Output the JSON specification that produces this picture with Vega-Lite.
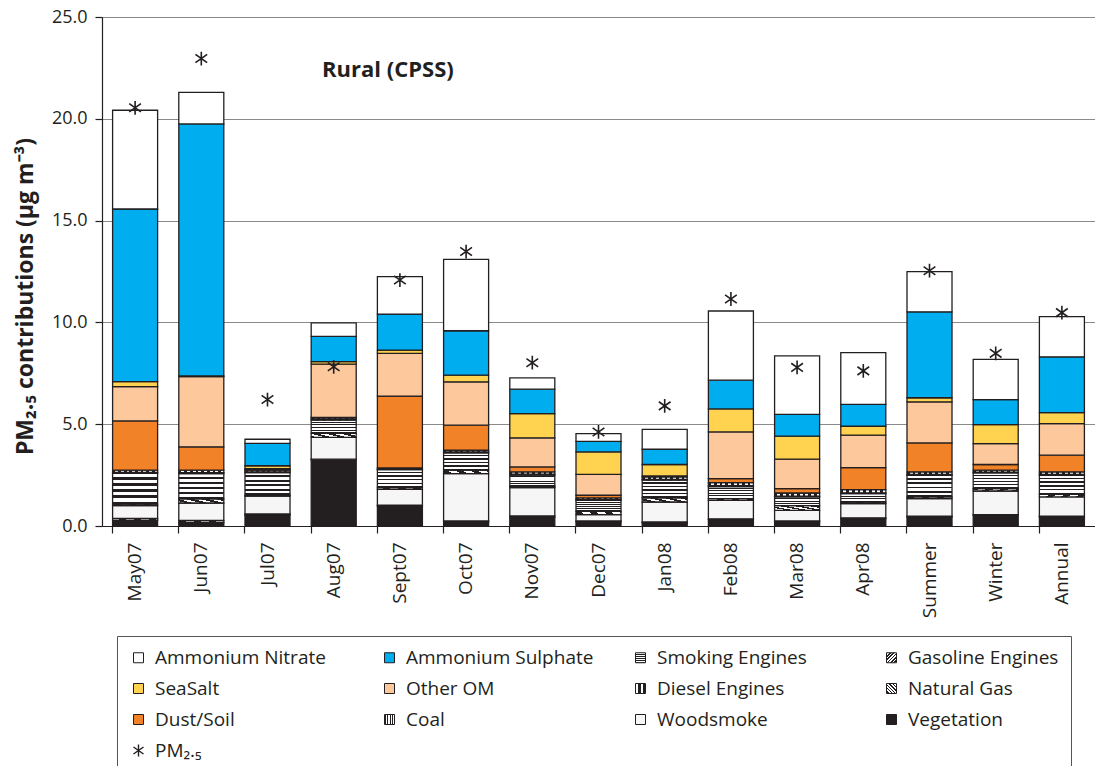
{
  "$schema": "https://vega.github.io/schema/vega-lite/v6.json",
  "autosize": "none",
  "width": 993,
  "height": 509,
  "padding": {"left": 102, "top": 17, "right": 0, "bottom": 240},
  "background": "white",
  "config": {
    "view": {"stroke": null},
    "font": "Open Sans",
    "axis": {"labelFont": "Open Sans", "titleFont": "Open Sans", "labelColor": "#231f20", "titleColor": "#231f20", "domainColor": "#231f20", "tickColor": "#231f20"},
    "legend": {"labelFont": "Open Sans"}
  },
  "datasets": {
    "rows": [
      {"period": "May07", "Vegetation": 0.29, "Natural Gas": 0.08, "Woodsmoke": 0.63, "Gasoline Engines": 0.08, "Smoking Engines": 1.5, "Coal": 0.05, "Diesel Engines": 0.11, "Dust/Soil": 2.42, "Other OM": 1.69, "SeaSalt": 0.24, "Ammonium Sulphate": 8.48, "Ammonium Nitrate": 4.85, "PM25": 20.54},
      {"period": "Jun07", "Vegetation": 0.17, "Natural Gas": 0.1, "Woodsmoke": 0.86, "Gasoline Engines": 0.2, "Smoking Engines": 1.24, "Coal": 0.05, "Diesel Engines": 0.12, "Dust/Soil": 1.15, "Other OM": 3.45, "SeaSalt": 0.03, "Ammonium Sulphate": 12.38, "Ammonium Nitrate": 1.55, "PM25": 22.96},
      {"period": "Jul07", "Vegetation": 0.54, "Natural Gas": 0.05, "Woodsmoke": 0.88, "Gasoline Engines": 0.05, "Smoking Engines": 1.1, "Coal": 0.04, "Diesel Engines": 0.08, "Dust/Soil": 0.03, "Other OM": 0.05, "SeaSalt": 0.14, "Ammonium Sulphate": 1.1, "Ammonium Nitrate": 0.2, "PM25": 6.21},
      {"period": "Aug07", "Vegetation": 3.25, "Natural Gas": 0.03, "Woodsmoke": 1.07, "Gasoline Engines": 0.2, "Smoking Engines": 0.65, "Coal": 0.05, "Diesel Engines": 0.08, "Dust/Soil": 0.0, "Other OM": 2.62, "SeaSalt": 0.12, "Ammonium Sulphate": 1.24, "Ammonium Nitrate": 0.67, "PM25": 7.82},
      {"period": "Sept07", "Vegetation": 0.98, "Natural Gas": 0.04, "Woodsmoke": 0.78, "Gasoline Engines": 0.09, "Smoking Engines": 0.88, "Coal": 0.03, "Diesel Engines": 0.05, "Dust/Soil": 3.53, "Other OM": 2.1, "SeaSalt": 0.16, "Ammonium Sulphate": 1.77, "Ammonium Nitrate": 1.84, "PM25": 12.08},
      {"period": "Oct07", "Vegetation": 0.2, "Natural Gas": 0.05, "Woodsmoke": 2.32, "Gasoline Engines": 0.17, "Smoking Engines": 0.85, "Coal": 0.05, "Diesel Engines": 0.08, "Dust/Soil": 1.23, "Other OM": 2.13, "SeaSalt": 0.33, "Ammonium Sulphate": 2.18, "Ammonium Nitrate": 3.51, "PM25": 13.48},
      {"period": "Nov07", "Vegetation": 0.44, "Natural Gas": 0.05, "Woodsmoke": 1.4, "Gasoline Engines": 0.07, "Smoking Engines": 0.54, "Coal": 0.05, "Diesel Engines": 0.11, "Dust/Soil": 0.24, "Other OM": 1.43, "SeaSalt": 1.19, "Ammonium Sulphate": 1.2, "Ammonium Nitrate": 0.56, "PM25": 8.02},
      {"period": "Dec07", "Vegetation": 0.2, "Natural Gas": 0.05, "Woodsmoke": 0.31, "Gasoline Engines": 0.16, "Smoking Engines": 0.54, "Coal": 0.04, "Diesel Engines": 0.08, "Dust/Soil": 0.13, "Other OM": 1.03, "SeaSalt": 1.1, "Ammonium Sulphate": 0.52, "Ammonium Nitrate": 0.38, "PM25": 4.62},
      {"period": "Jan08", "Vegetation": 0.16, "Natural Gas": 0.04, "Woodsmoke": 0.98, "Gasoline Engines": 0.2, "Smoking Engines": 0.87, "Coal": 0.04, "Diesel Engines": 0.12, "Dust/Soil": 0.05, "Other OM": 0.0, "SeaSalt": 0.56, "Ammonium Sulphate": 0.75, "Ammonium Nitrate": 0.98, "PM25": 5.9},
      {"period": "Feb08", "Vegetation": 0.31, "Natural Gas": 0.04, "Woodsmoke": 0.91, "Gasoline Engines": 0.08, "Smoking Engines": 0.6, "Coal": 0.04, "Diesel Engines": 0.15, "Dust/Soil": 0.2, "Other OM": 2.29, "SeaSalt": 1.13, "Ammonium Sulphate": 1.41, "Ammonium Nitrate": 3.4, "PM25": 11.15},
      {"period": "Mar08", "Vegetation": 0.2, "Natural Gas": 0.05, "Woodsmoke": 0.52, "Gasoline Engines": 0.23, "Smoking Engines": 0.43, "Coal": 0.04, "Diesel Engines": 0.15, "Dust/Soil": 0.22, "Other OM": 1.44, "SeaSalt": 1.13, "Ammonium Sulphate": 1.07, "Ammonium Nitrate": 2.88, "PM25": 7.79},
      {"period": "Apr08", "Vegetation": 0.36, "Natural Gas": 0.04, "Woodsmoke": 0.7, "Gasoline Engines": 0.08, "Smoking Engines": 0.41, "Coal": 0.04, "Diesel Engines": 0.16, "Dust/Soil": 1.08, "Other OM": 1.59, "SeaSalt": 0.44, "Ammonium Sulphate": 1.07, "Ammonium Nitrate": 2.55, "PM25": 7.62},
      {"period": "Summer", "Vegetation": 0.44, "Natural Gas": 0.04, "Woodsmoke": 0.86, "Gasoline Engines": 0.09, "Smoking Engines": 1.06, "Coal": 0.05, "Diesel Engines": 0.12, "Dust/Soil": 1.42, "Other OM": 2.02, "SeaSalt": 0.2, "Ammonium Sulphate": 4.22, "Ammonium Nitrate": 1.97, "PM25": 12.54},
      {"period": "Winter", "Vegetation": 0.52, "Natural Gas": 0.04, "Woodsmoke": 1.16, "Gasoline Engines": 0.12, "Smoking Engines": 0.77, "Coal": 0.04, "Diesel Engines": 0.09, "Dust/Soil": 0.28, "Other OM": 1.03, "SeaSalt": 0.93, "Ammonium Sulphate": 1.23, "Ammonium Nitrate": 1.97, "PM25": 8.48},
      {"period": "Annual", "Vegetation": 0.44, "Natural Gas": 0.04, "Woodsmoke": 0.95, "Gasoline Engines": 0.13, "Smoking Engines": 0.93, "Coal": 0.05, "Diesel Engines": 0.12, "Dust/Soil": 0.82, "Other OM": 1.55, "SeaSalt": 0.54, "Ammonium Sulphate": 2.74, "Ammonium Nitrate": 1.97, "PM25": 10.48}
    ],
    "components": [
      {"component": "Vegetation", "rank": 1},
      {"component": "Natural Gas", "rank": 2},
      {"component": "Woodsmoke", "rank": 3},
      {"component": "Gasoline Engines", "rank": 4},
      {"component": "Smoking Engines", "rank": 5},
      {"component": "Coal", "rank": 6},
      {"component": "Diesel Engines", "rank": 7},
      {"component": "Dust/Soil", "rank": 8},
      {"component": "Other OM", "rank": 9},
      {"component": "SeaSalt", "rank": 10},
      {"component": "Ammonium Sulphate", "rank": 11},
      {"component": "Ammonium Nitrate", "rank": 12}
    ]
  },
  "data": {"name": "rows"},
  "encoding": {
    "x": {
      "field": "period", "type": "nominal", "sort": null,
      "scale": {"paddingInner": 0.32, "paddingOuter": 0.16},
      "axis": {"title": null, "labelAngle": -90, "labelFontSize": 19, "labelPadding": 9, "tickSize": 7, "bandPosition": 0, "domainWidth": 1.2, "tickWidth": 1.2, "grid": false}
    }
  },
  "layer": [
    {
      "transform": [
        {"fold": ["Vegetation", "Natural Gas", "Woodsmoke", "Gasoline Engines", "Smoking Engines", "Coal", "Diesel Engines", "Dust/Soil", "Other OM", "SeaSalt", "Ammonium Sulphate", "Ammonium Nitrate"], "as": ["component", "value"]},
        {"lookup": "component", "from": {"data": {"name": "components"}, "key": "component", "fields": ["rank"]}}
      ],
      "mark": {"type": "bar", "stroke": "#231f20", "strokeWidth": 1.3},
      "encoding": {
        "y": {
          "field": "value", "type": "quantitative", "stack": "zero",
          "scale": {"domain": [0, 25], "nice": false},
          "axis": {"title": "PM₂.₅ contributions (µg m⁻³)", "titleFontSize": 23, "titleFontWeight": "bold", "titlePadding": 14, "titleY": 279, "labelFontSize": 18, "labelPadding": 8, "tickSize": 7, "format": ".1f", "values": [0, 5, 10, 15, 20, 25], "grid": true, "gridColor": "#8a8a8a", "gridWidth": 1.2, "domainWidth": 1.2, "tickWidth": 1.2}
        },
        "order": {"field": "rank", "type": "quantitative", "sort": "ascending"},
        "color": {
          "field": "component", "type": "nominal",
          "scale": {
            "domain": ["Ammonium Nitrate", "Ammonium Sulphate", "Smoking Engines", "Gasoline Engines", "SeaSalt", "Other OM", "Diesel Engines", "Natural Gas", "Dust/Soil", "Coal", "Woodsmoke", "Vegetation", "PM₂.₅"],
            "range": [
              "#ffffff",
              "#00aeef",
              {"expr": "{gradient:'linear',x1:0,y1:0,x2:0,y2:1,stops:[{offset:0,color:'white'},{offset:0.12,color:'white'},{offset:0.12,color:'#231f20'},{offset:0.2,color:'#231f20'},{offset:0.2,color:'white'},{offset:0.32,color:'white'},{offset:0.32,color:'#231f20'},{offset:0.4,color:'#231f20'},{offset:0.4,color:'white'},{offset:0.52,color:'white'},{offset:0.52,color:'#231f20'},{offset:0.6,color:'#231f20'},{offset:0.6,color:'white'},{offset:0.72,color:'white'},{offset:0.72,color:'#231f20'},{offset:0.8,color:'#231f20'},{offset:0.8,color:'white'},{offset:0.92,color:'white'},{offset:0.92,color:'#231f20'},{offset:1,color:'#231f20'}]}"},
              {"expr": "{gradient:'linear',x1:0,y1:0,x2:1,y2:1,stops:[{offset:0,color:'#231f20'},{offset:0.08,color:'#231f20'},{offset:0.08,color:'white'},{offset:0.167,color:'white'},{offset:0.167,color:'#231f20'},{offset:0.247,color:'#231f20'},{offset:0.247,color:'white'},{offset:0.333,color:'white'},{offset:0.333,color:'#231f20'},{offset:0.413,color:'#231f20'},{offset:0.413,color:'white'},{offset:0.5,color:'white'},{offset:0.5,color:'#231f20'},{offset:0.58,color:'#231f20'},{offset:0.58,color:'white'},{offset:0.667,color:'white'},{offset:0.667,color:'#231f20'},{offset:0.747,color:'#231f20'},{offset:0.747,color:'white'},{offset:0.833,color:'white'},{offset:0.833,color:'#231f20'},{offset:0.913,color:'#231f20'},{offset:0.913,color:'white'},{offset:1,color:'white'}]}"},
              "#ffd34f",
              "#fcc89c",
              {"expr": "{gradient:'linear',x1:0,y1:0,x2:1,y2:0,stops:[{offset:0,color:'#231f20'},{offset:0.06,color:'#231f20'},{offset:0.06,color:'white'},{offset:0.125,color:'white'},{offset:0.125,color:'#231f20'},{offset:0.185,color:'#231f20'},{offset:0.185,color:'white'},{offset:0.25,color:'white'},{offset:0.25,color:'#231f20'},{offset:0.31,color:'#231f20'},{offset:0.31,color:'white'},{offset:0.375,color:'white'},{offset:0.375,color:'#231f20'},{offset:0.435,color:'#231f20'},{offset:0.435,color:'white'},{offset:0.5,color:'white'},{offset:0.5,color:'#231f20'},{offset:0.56,color:'#231f20'},{offset:0.56,color:'white'},{offset:0.625,color:'white'},{offset:0.625,color:'#231f20'},{offset:0.685,color:'#231f20'},{offset:0.685,color:'white'},{offset:0.75,color:'white'},{offset:0.75,color:'#231f20'},{offset:0.81,color:'#231f20'},{offset:0.81,color:'white'},{offset:0.875,color:'white'},{offset:0.875,color:'#231f20'},{offset:0.935,color:'#231f20'},{offset:0.935,color:'white'},{offset:1,color:'white'}]}"},
              {"expr": "{gradient:'linear',x1:1,y1:0,x2:0,y2:1,stops:[{offset:0,color:'#231f20'},{offset:0.08,color:'#231f20'},{offset:0.08,color:'white'},{offset:0.167,color:'white'},{offset:0.167,color:'#231f20'},{offset:0.247,color:'#231f20'},{offset:0.247,color:'white'},{offset:0.333,color:'white'},{offset:0.333,color:'#231f20'},{offset:0.413,color:'#231f20'},{offset:0.413,color:'white'},{offset:0.5,color:'white'},{offset:0.5,color:'#231f20'},{offset:0.58,color:'#231f20'},{offset:0.58,color:'white'},{offset:0.667,color:'white'},{offset:0.667,color:'#231f20'},{offset:0.747,color:'#231f20'},{offset:0.747,color:'white'},{offset:0.833,color:'white'},{offset:0.833,color:'#231f20'},{offset:0.913,color:'#231f20'},{offset:0.913,color:'white'},{offset:1,color:'white'}]}"},
              "#f28227",
              {"expr": "{gradient:'linear',x1:0,y1:0,x2:1,y2:0,stops:[{offset:0,color:'white'},{offset:0.1,color:'white'},{offset:0.1,color:'#231f20'},{offset:0.167,color:'#231f20'},{offset:0.167,color:'white'},{offset:0.267,color:'white'},{offset:0.267,color:'#231f20'},{offset:0.333,color:'#231f20'},{offset:0.333,color:'white'},{offset:0.433,color:'white'},{offset:0.433,color:'#231f20'},{offset:0.5,color:'#231f20'},{offset:0.5,color:'white'},{offset:0.6,color:'white'},{offset:0.6,color:'#231f20'},{offset:0.667,color:'#231f20'},{offset:0.667,color:'white'},{offset:0.767,color:'white'},{offset:0.767,color:'#231f20'},{offset:0.833,color:'#231f20'},{offset:0.833,color:'white'},{offset:1,color:'white'}]}"},
              "#f6f6f6",
              "#231f20",
              "transparent"
            ]
          },
          "legend": {
            "title": null,
            "orient": "none",
            "legendX": 15,
            "legendY": 619,
            "columns": 4,
            "direction": "horizontal",
            "gridAlign": "all",
            "columnPadding": 37,
            "rowPadding": 11,
            "labelFontSize": 19,
            "labelColor": "#231f20",
            "labelOffset": 7,
            "labelLimit": 300,
            "symbolSize": 100,
            "symbolType": "square",
            "symbolStrokeColor": "#231f20",
            "symbolStrokeWidth": 1,
            "strokeColor": "#555555",
            "padding": 12,
            "fillColor": "white",
            "encode": {
              "symbols": {
                "update": {
                  "shape": {"signal": "datum.value === 'PM₂.₅' ? 'M0,-1L0,1M-0.85,-0.6L0.85,0.6M-0.85,0.6L0.85,-0.6' : 'square'"},
                  "strokeWidth": {"signal": "datum.value === 'PM₂.₅' ? 1.4 : 1"},
                  "size": {"signal": "datum.value === 'PM₂.₅' ? 140 : 100"}
                }
              }
            }
          }
        }
      }
    },
    {
      "mark": {"type": "point", "shape": "M0,-1L0,1M-0.85,-0.6L0.85,0.6M-0.85,0.6L0.85,-0.6", "filled": false, "stroke": "#231f20", "strokeWidth": 1.6, "size": 190, "opacity": 1},
      "encoding": {
        "y": {"field": "PM25", "type": "quantitative"}
      }
    },
    {
      "data": {"values": [{"label": "Rural (CPSS)", "period": "Sept07", "yv": 22.4}]},
      "mark": {"type": "text", "fontSize": 22, "fontWeight": "bold", "font": "Open Sans", "color": "#231f20", "align": "center", "baseline": "middle", "dx": -12},
      "encoding": {
        "x": {"field": "period", "type": "nominal"},
        "y": {"field": "yv", "type": "quantitative"},
        "text": {"field": "label"}
      }
    }
  ]
}
